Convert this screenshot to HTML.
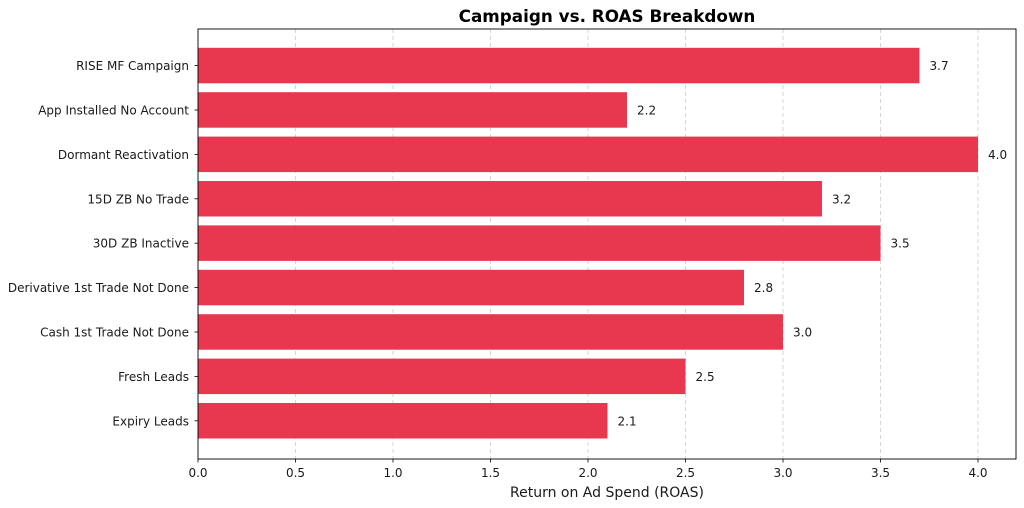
<!DOCTYPE html>
<html><head><meta charset="utf-8"><style>html,body{margin:0;padding:0;background:#fff}svg{display:block}text{font-family:"DejaVu Sans","Liberation Sans",sans-serif;fill:#1a1a1a}</style></head><body>
<svg width="1024" height="508" viewBox="0 0 1024 508" xmlns="http://www.w3.org/2000/svg">
<rect width="1024" height="508" fill="#fff"/>
<text x="607" y="22" font-size="16.8" font-weight="bold" text-anchor="middle" style="fill:#000">Campaign vs. ROAS Breakdown</text>
<g stroke="#cccccc" stroke-dasharray="4,3" stroke-width="0.8">
<line x1="295.5" y1="29" x2="295.5" y2="459"/><line x1="393" y1="29" x2="393" y2="459"/><line x1="490.5" y1="29" x2="490.5" y2="459"/><line x1="588" y1="29" x2="588" y2="459"/><line x1="685.5" y1="29" x2="685.5" y2="459"/><line x1="783" y1="29" x2="783" y2="459"/><line x1="880.5" y1="29" x2="880.5" y2="459"/><line x1="978" y1="29" x2="978" y2="459"/>
</g>
<g fill="#e8384f">
<rect x="198" y="47.8" width="721.5" height="35.5"/>
<rect x="198" y="92.2" width="429" height="35.5"/>
<rect x="198" y="136.6" width="780" height="35.5"/>
<rect x="198" y="181" width="624" height="35.5"/>
<rect x="198" y="225.4" width="682.5" height="35.5"/>
<rect x="198" y="269.8" width="546" height="35.5"/>
<rect x="198" y="314.2" width="585" height="35.5"/>
<rect x="198" y="358.6" width="487.5" height="35.5"/>
<rect x="198" y="403" width="409.5" height="35.5"/>
</g>
<g font-size="12">
<text x="929.5" y="70">3.7</text><text x="637" y="114.5">2.2</text><text x="988" y="159">4.0</text><text x="832" y="203.3">3.2</text><text x="890.5" y="247.7">3.5</text><text x="754" y="292">2.8</text><text x="793" y="336.5">3.0</text><text x="695.5" y="381">2.5</text><text x="617.5" y="425.3">2.1</text>
</g>
<g font-size="12" text-anchor="end">
<text x="189" y="70">RISE MF Campaign</text><text x="189" y="114.5">App Installed No Account</text><text x="189" y="159">Dormant Reactivation</text><text x="189" y="203.3">15D ZB No Trade</text><text x="189" y="247.7">30D ZB Inactive</text><text x="189" y="292">Derivative 1st Trade Not Done</text><text x="189" y="336.5">Cash 1st Trade Not Done</text><text x="189" y="381">Fresh Leads</text><text x="189" y="425.3">Expiry Leads</text>
</g>
<g stroke="#000" stroke-width="0.8">
<line x1="194.5" y1="65.5" x2="198" y2="65.5"/><line x1="194.5" y1="110" x2="198" y2="110"/><line x1="194.5" y1="154.4" x2="198" y2="154.4"/><line x1="194.5" y1="198.8" x2="198" y2="198.8"/><line x1="194.5" y1="243.2" x2="198" y2="243.2"/><line x1="194.5" y1="287.6" x2="198" y2="287.6"/><line x1="194.5" y1="332" x2="198" y2="332"/><line x1="194.5" y1="376.4" x2="198" y2="376.4"/><line x1="194.5" y1="420.8" x2="198" y2="420.8"/>
<line x1="198" y1="459" x2="198" y2="462.5"/><line x1="295.5" y1="459" x2="295.5" y2="462.5"/><line x1="393" y1="459" x2="393" y2="462.5"/><line x1="490.5" y1="459" x2="490.5" y2="462.5"/><line x1="588" y1="459" x2="588" y2="462.5"/><line x1="685.5" y1="459" x2="685.5" y2="462.5"/><line x1="783" y1="459" x2="783" y2="462.5"/><line x1="880.5" y1="459" x2="880.5" y2="462.5"/><line x1="978" y1="459" x2="978" y2="462.5"/>
</g>
<rect x="198" y="29" width="818" height="430" fill="none" stroke="#000" stroke-width="0.9"/>
<g font-size="12" text-anchor="middle">
<text x="198" y="477">0.0</text><text x="295.5" y="477">0.5</text><text x="393" y="477">1.0</text><text x="490.5" y="477">1.5</text><text x="588" y="477">2.0</text><text x="685.5" y="477">2.5</text><text x="783" y="477">3.0</text><text x="880.5" y="477">3.5</text><text x="978" y="477">4.0</text>
</g>
<text x="607" y="497" font-size="14" text-anchor="middle">Return on Ad Spend (ROAS)</text>
</svg>
</body></html>
